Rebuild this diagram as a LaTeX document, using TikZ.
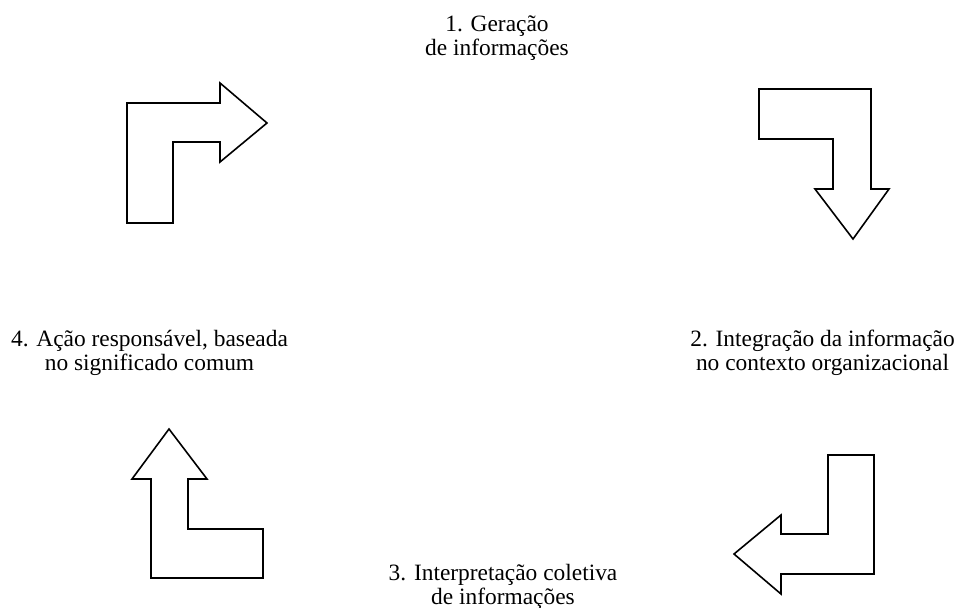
\documentclass[tikz,border=0pt]{standalone}
\usepackage{fontspec}
\setmainfont{Liberation Serif}
\begin{document}
\begin{tikzpicture}[x=1pt,y=-1pt,
  elbowarrow/.style={draw=black,line width=1.6pt,fill=white},
  lbl/.style={align=center,anchor=base,inner sep=0pt,font=\fontsize{23.4}{23.3}\selectfont}]
\useasboundingbox (0,0) rectangle (959,608);
% arrow 1 (top left, pointing right)
\draw[elbowarrow] (127,223) -- (127,103) -- (220,103) -- (220,83) -- (267,123) -- (220,162) -- (220,142) -- (173,142) -- (173,223) -- cycle;
% arrow 2 (top right, pointing down)
\draw[elbowarrow] (759,89) -- (871,89) -- (871,189) -- (889,189) -- (853,239) -- (815,189) -- (833,189) -- (833,139) -- (759,139) -- cycle;
% arrow 3 (bottom right, pointing left)
\draw[elbowarrow] (828,455) -- (874,455) -- (874,574) -- (781,574) -- (781,594) -- (734,554) -- (781,515) -- (781,534) -- (828,534) -- cycle;
% arrow 4 (bottom left, pointing up)
\draw[elbowarrow] (169,429) -- (207,479) -- (188,479) -- (188,529) -- (263,529) -- (263,578) -- (151,578) -- (151,479) -- (132,479) -- cycle;
% labels (anchor = baseline of last line)
\node[lbl] (l1) at (497,55) {1. Geração\\de informações};
\node[lbl] (l2) at (822.5,370) {2. Integração da informação\\no contexto organizacional};
\node[lbl] (l3) at (503,604) {3. Interpretação coletiva\\de informações};
\node[lbl] (l4) at (149.5,370) {4. Ação responsável, baseada\\no significado comum};
\end{tikzpicture}
\end{document}
